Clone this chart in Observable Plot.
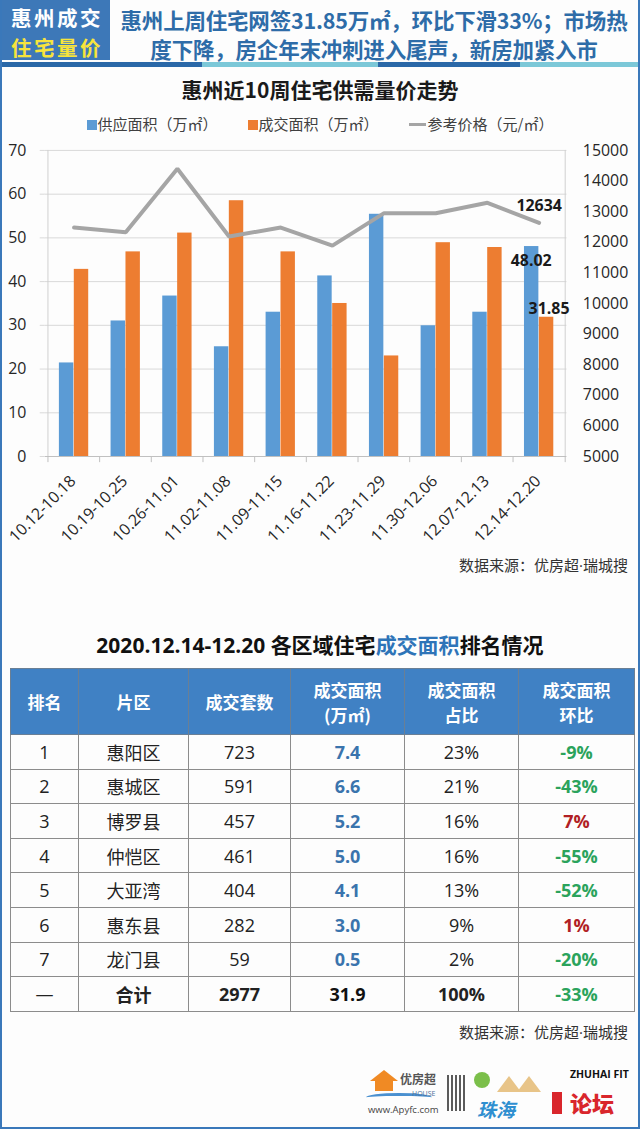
<!DOCTYPE html>
<html><head><meta charset="utf-8">
<script src="https://cdn.jsdelivr.net/npm/d3@7"></script>
<script src="https://cdn.jsdelivr.net/npm/@observablehq/plot@0.6"></script>
<style>
body{margin:0;background:#fff;}
#page{position:relative;width:640px;height:1129px;box-sizing:border-box;border:2px solid #3a78ba;border-top:none;background:#fdfdfd;overflow:hidden;font-family:"Open Sans","Noto Sans CJK SC",sans-serif;color:#222;}
.abs{position:absolute;}
#hbox{left:0;top:0;width:108px;height:60px;background:#3d78b8;font-family:"Noto Sans CJK SC",sans-serif;font-weight:bold;font-size:20.5px;text-align:center;}
#hbox div{position:absolute;left:0;right:0;line-height:30px;letter-spacing:2.5px;padding-left:2px;}
#headline{left:108px;right:0;top:0;height:60px;font-family:"Noto Sans CJK SC",sans-serif;font-weight:bold;font-size:21.5px;color:#2e6ca8;text-align:center;letter-spacing:-0.2px;}
#headline div{position:absolute;left:0;right:0;line-height:28px;}
#stripe{left:0;right:0;top:62px;height:5px;display:flex;}
#ctitle{left:0;right:0;top:74px;text-align:center;font-family:"Noto Sans CJK SC",sans-serif;font-weight:bold;font-size:21px;line-height:30px;color:#1a1a1a;}
#legend{left:0;right:0;top:113px;height:22px;display:flex;justify-content:center;gap:30px;font-family:"Noto Sans CJK SC",sans-serif;font-size:15px;line-height:22px;color:#404040;}
#legend span.sw{display:inline-block;width:10px;height:10px;margin-right:1px;vertical-align:0px;}
#legend span.ln{display:inline-block;width:17px;height:3px;background:#a5a5a5;margin-right:2px;vertical-align:4px;}
#chart{left:0;top:140px;}
.src{right:10px;font-family:"Noto Sans CJK SC",sans-serif;font-size:15px;color:#333;}
.src .dot{font-family:"Open Sans",sans-serif;}
#ttitle{left:0;right:0;top:629px;text-align:center;font-weight:bold;font-size:21px;line-height:30px;color:#111;}
#tbl{left:8px;top:668px;border-collapse:collapse;table-layout:fixed;width:624px;}
#tbl th{background:#4081c4;color:#fff;font-family:"Noto Sans CJK SC",sans-serif;font-weight:bold;font-size:17px;line-height:25px;height:65px;border:1px solid #6a7f95;padding:0;}
#tbl td{height:33.6px;border:1px solid #8c8c8c;text-align:center;font-size:18px;padding:0;line-height:22px;}
</style></head>
<body>
<div id="page">
  <div class="abs" id="hbox"><div style="top:2px;color:#fff">惠州成交</div><div style="top:32px;color:#f7e43c">住宅量价</div></div>
  <div class="abs" id="headline"><div style="top:6px">惠州上周住宅网签31.85万㎡，环比下滑33%；市场热</div><div style="top:35px">度下降，房企年末冲刺进入尾声，新房加紧入市</div></div>
  <div class="abs" id="stripe"><div style="width:200px;background:#2a68a8"></div><div style="width:176px;background:#7cc8d8"></div><div style="width:142px;background:#2a68a8"></div><div style="flex:1;background:#7cc8d8"></div></div>
  <div class="abs" id="ctitle">惠州近10周住宅供需量价走势</div>
  <div class="abs" id="legend"></div>
  <div class="abs" id="chart"></div>
  <div class="abs src" style="top:554px">数据来源：优房超<span class="dot">·</span>瑞城搜</div>
  <div class="abs" id="ttitle"></div>
  <table class="abs" id="tbl"></table>
  <div class="abs src" style="top:1021px">数据来源：优房超<span class="dot">·</span>瑞城搜</div>
  <div class="abs" id="logos" style="left:360px;top:1062px;width:272px;height:60px;">
    <div class="abs" style="left:8px;top:8px;width:0;height:0;border-left:14px solid transparent;border-right:14px solid transparent;border-bottom:11px solid #f08a24;"></div>
    <div class="abs" style="left:13px;top:19px;width:18px;height:10px;background:#f08a24;"></div>
    <div class="abs" style="left:4px;top:31px;width:66px;height:6px;border-top:3px solid #4a90d0;border-radius:50% 50% 0 0;"></div>
    <div class="abs" style="left:38px;top:10px;font-family:'Noto Sans CJK SC';font-size:12px;font-weight:bold;color:#555;line-height:14px;">优房超</div>
    <div class="abs" style="left:50px;top:28px;font-size:7px;color:#4a6f99;line-height:8px;">HOUSE</div>
    <div class="abs" style="left:6px;top:42px;font-size:9.5px;color:#444;line-height:12px;">www.Apyfc.com</div>
    <div class="abs" style="left:85px;top:13px;width:20px;height:36px;background:repeating-linear-gradient(90deg,#333 0 2px,#fff 2px 4px),#333;opacity:0.8;"></div>
    <div class="abs" style="left:112px;top:10px;width:16px;height:16px;border-radius:50%;background:#7bbf4a;"></div>
    <div class="abs" style="left:135px;top:14px;width:0;height:0;border-left:12px solid transparent;border-right:12px solid transparent;border-bottom:16px solid #e8c488;"></div>
    <div class="abs" style="left:155px;top:14px;width:0;height:0;border-left:12px solid transparent;border-right:12px solid transparent;border-bottom:16px solid #e8c488;"></div>
    <div class="abs" style="left:115px;top:36px;font-family:'Noto Sans CJK SC';font-size:19px;font-weight:bold;color:#2f8fd0;line-height:22px;font-style:italic;">珠海</div>
    <div class="abs" style="left:190px;top:30px;width:10px;height:22px;background:#d9262c;"></div>
    <div class="abs" style="left:208px;top:6px;font-size:10.5px;font-weight:bold;color:#111;line-height:12px;">ZHUHAI FIT</div>
    <div class="abs" style="left:208px;top:27px;font-family:'Noto Sans CJK SC';font-size:22px;font-weight:900;color:#d9262c;line-height:26px;">论坛</div>
  </div>
</div>
<script>
// ---------- chart data ----------
const weeks = ["10.12-10.18","10.19-10.25","10.26-11.01","11.02-11.08","11.09-11.15","11.16-11.22","11.23-11.29","11.30-12.06","12.07-12.13","12.14-12.20"];
const supplyArea = [21.4, 31.0, 36.7, 25.1, 33.0, 41.3, 55.4, 29.9, 33.0, 48.02];
const dealArea = [42.8, 46.8, 51.1, 58.5, 46.8, 35.0, 23.0, 48.9, 47.8, 31.85];
const refPrice = [12480, 12330, 14400, 12190, 12480, 11890, 12950, 12950, 13290, 12634];
const leftTicks = [0, 10, 20, 30, 40, 50, 60, 70];
const rightTicks = [5000, 6000, 7000, 8000, 9000, 10000, 11000, 12000, 13000, 14000, 15000];
const legendLabels = ["供应面积（万㎡）", "成交面积（万㎡）", "参考价格（元/㎡）"];

// ---------- table data ----------
const tableHeaders = ["排名", "片区", "成交套数", "成交面积<br>(万㎡)", "成交面积<br>占比", "成交面积<br>环比"];
const ranks = ["1", "2", "3", "4", "5", "6", "7", "—"];
const districts = ["惠阳区", "惠城区", "博罗县", "仲恺区", "大亚湾", "惠东县", "龙门县", "合计"];
const units = [723, 591, 457, 461, 404, 282, 59, 2977];
const areas = ["7.4", "6.6", "5.2", "5.0", "4.1", "3.0", "0.5", "31.9"];
const shares = ["23%", "21%", "16%", "16%", "13%", "9%", "2%", "100%"];
const changes = ["-9%", "-43%", "7%", "-55%", "-52%", "1%", "-20%", "-33%"];

const BLUE = "#5b9bd5", ORANGE = "#ed7d31", GRAY = "#a5a5a5";

// legend
document.getElementById("legend").innerHTML =
  `<div><span class="sw" style="background:${BLUE}"></span>${legendLabels[0]}</div>` +
  `<div><span class="sw" style="background:${ORANGE}"></span>${legendLabels[1]}</div>` +
  `<div><span class="ln"></span>${legendLabels[2]}</div>`;

// chart
const rows = weeks.map((w, i) => ({week: w, supply: supplyArea[i], deal: dealArea[i], price: refPrice[i]}));
const W = 640, H = 410, ML = 43, MR = 72, MT = 10, MB = 92;
const bw = (W - ML - MR) / weeks.length;
const toL = p => (p - 5000) * 70 / 10000;
const last = rows.slice(-1);
const txt = "#262626";

const chart = Plot.plot({
  width: W, height: H, marginLeft: ML, marginRight: MR, marginTop: MT, marginBottom: MB,
  style: {background: "transparent", fontFamily: "'Open Sans','Noto Sans CJK SC',sans-serif", fontSize: "16px", color: txt, overflow: "visible"},
  x: {domain: weeks, padding: 0, axis: null},
  y: {domain: [0, 70], axis: null},
  marks: [
    Plot.ruleY(leftTicks.slice(1), {stroke: "#d9d9d9", strokeWidth: 1}),
    Plot.ruleX([weeks[0]], {dx: -bw / 2, stroke: "#d0d0d0"}),
    Plot.ruleX([weeks[weeks.length - 1]], {dx: bw / 2, stroke: "#d0d0d0"}),
    Plot.barY(rows, {x: "week", y: "supply", fill: BLUE, insetLeft: bw / 2 - 15, insetRight: bw / 2}),
    Plot.barY(rows, {x: "week", y: "deal", fill: ORANGE, insetLeft: bw / 2, insetRight: bw / 2 - 15}),
    Plot.line(rows, {x: "week", y: d => toL(d.price), stroke: GRAY, strokeWidth: 4, strokeLinejoin: "miter"}),
    Plot.ruleY([0], {stroke: "#bfbfbf"}),
    Plot.ruleX(weeks, {dx: -bw / 2, y1: 0, y2: -1.4, stroke: "#bfbfbf"}),
    Plot.ruleX([weeks[weeks.length - 1]], {dx: bw / 2, y1: 0, y2: -1.4, stroke: "#bfbfbf"}),
    Plot.axisY(leftTicks, {anchor: "left", tickSize: 5, tickPadding: 14, stroke: "#d9d9d9", fill: txt, fontSize: 16, label: null}),
    Plot.axisY(rightTicks.map(toL), {anchor: "right", tickSize: 0, tickPadding: 16, fill: txt, fontSize: 16, label: null,
      tickFormat: (d, i) => String(rightTicks[i])}),
    Plot.axisX({tickRotate: -45, tickSize: 0, tickPadding: 22, dx: -1, fill: txt, fontSize: 16, label: null}),
    Plot.text(last, {x: "week", y: d => toL(d.price), text: d => String(d.price), dy: -17, fontWeight: "bold", fontSize: 16, fill: "#1a1a1a"}),
    Plot.text(last, {x: "week", y: "supply", text: d => d.supply.toFixed(2), dx: -8, dy: 14, fontWeight: "bold", fontSize: 16, fill: "#1a1a1a"}),
    Plot.text(last, {x: "week", y: "deal", text: d => d.deal.toFixed(2), dx: 10, dy: -8, fontWeight: "bold", fontSize: 16, fill: "#1a1a1a"})
  ]
});
document.getElementById("chart").appendChild(chart);

// table title
document.getElementById("ttitle").innerHTML =
  `2020.12.14-12.20 <span style="font-family:'Noto Sans CJK SC'">各区域住宅<span style="color:#2e74b8">成交面积</span>排名情况</span>`;

// table
const colW = [68, 110, 102, 114, 114, 116];
let html = "<colgroup>" + colW.map(w => `<col style="width:${w}px">`).join("") + "</colgroup>";
html += "<tr>" + tableHeaders.map(h => `<th>${h}</th>`).join("") + "</tr>";
ranks.forEach((r, i) => {
  const total = i === ranks.length - 1;
  const fw = total ? "bold" : "normal";
  const ch = changes[i];
  const chColor = ch.startsWith("-") ? "#2ba35c" : "#b11f25";
  html += "<tr>" +
    `<td style="font-weight:normal">${r}</td>` +
    `<td style="font-family:'Noto Sans CJK SC';font-weight:${fw}">${districts[i]}</td>` +
    `<td style="font-weight:${fw}">${units[i]}</td>` +
    `<td style="font-weight:bold;color:${total ? '#111' : '#3a74ad'}">${areas[i]}</td>` +
    `<td style="font-weight:${fw}">${shares[i]}</td>` +
    `<td style="font-weight:bold;color:${chColor}">${ch}</td>` +
    "</tr>";
});
document.getElementById("tbl").innerHTML = html;
</script>
</body></html>
